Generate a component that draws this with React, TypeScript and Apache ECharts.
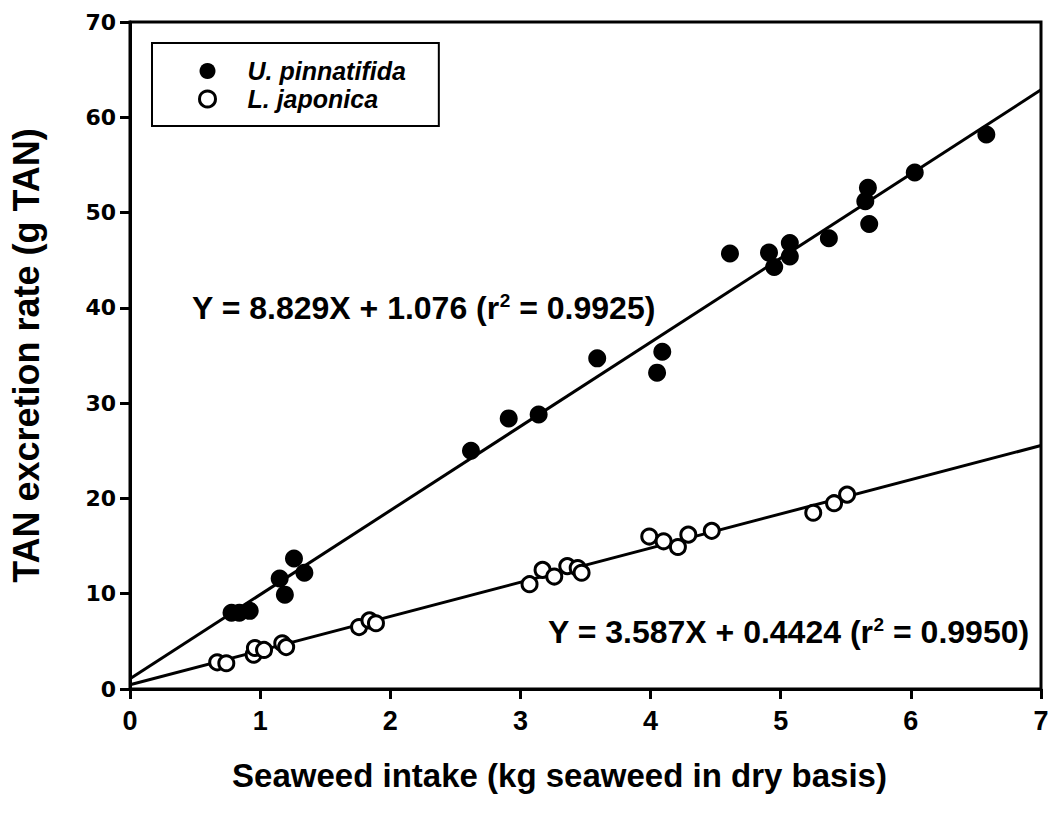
import React, { useEffect, useRef } from "react";
import * as echarts from "echarts";

// U. pinnatifida (filled circles): [seaweed intake kg, TAN g]
const pinnatifidaX = [0.78, 0.84, 0.92, 1.15, 1.19, 1.26, 1.34, 2.62, 2.91, 3.14, 3.59, 4.05, 4.09, 4.61, 4.91, 4.95, 5.07, 5.07, 5.37, 5.65, 5.67, 5.68, 6.03, 6.58];
const pinnatifidaY = [8.0, 8.0, 8.2, 11.6, 9.9, 13.7, 12.2, 25.0, 28.4, 28.8, 34.7, 33.2, 35.4, 45.7, 45.8, 44.3, 46.8, 45.4, 47.3, 51.2, 52.6, 48.8, 54.2, 58.2];

// L. japonica (open circles)
const japonicaX = [0.67, 0.74, 0.95, 0.96, 1.03, 1.17, 1.20, 1.76, 1.84, 1.89, 3.07, 3.17, 3.26, 3.36, 3.44, 3.47, 3.99, 4.10, 4.21, 4.29, 4.47, 5.25, 5.41, 5.51];
const japonicaY = [2.8, 2.7, 3.6, 4.3, 4.1, 4.8, 4.4, 6.5, 7.2, 6.9, 11.0, 12.5, 11.8, 12.9, 12.7, 12.2, 16.0, 15.5, 14.9, 16.2, 16.6, 18.5, 19.5, 20.4];

// Regression fits stated on the chart
const fitPinnatifida = { slope: 8.829, intercept: 1.076, r2: "0.9925" };
const fitJaponica = { slope: 3.587, intercept: 0.4424, r2: "0.9950" };
const fitRange = [0, 7];

const xTicks = [0, 1, 2, 3, 4, 5, 6, 7];
const yTicks = [0, 10, 20, 30, 40, 50, 60, 70];

const seriesNames = ["U. pinnatifida", "L. japonica"];

const SANS = "'Liberation Sans', Arial, sans-serif";

export default function App() {
  const ref = useRef<HTMLDivElement>(null);
  useEffect(() => {
    if (!ref.current) return;
    const chart = echarts.init(ref.current, undefined, { renderer: "svg" });
    const pts = (xs: number[], ys: number[]) => xs.map((x, i) => [x, ys[i]]);
    const fitLine = (f: { slope: number; intercept: number }) =>
      fitRange.map((x) => [x, f.slope * x + f.intercept]);
    const eqRich = {
      sup: { fontSize: 19, fontWeight: "bold", fontFamily: SANS, verticalAlign: "top", padding: [0, 0, 14, 0], fill: "#000" },
      n: { fontSize: 32, fontWeight: "bold", fontFamily: SANS, fill: "#000" },
    };
    const eqText = (f: { slope: number; intercept: number; r2: string }) =>
      `{n|Y = ${f.slope}X + ${f.intercept} (r}{sup|2}{n| = ${f.r2})}`;

    chart.setOption({
      animation: false,
      backgroundColor: "#fff",
      grid: {
        left: 130,
        right: 11,
        top: 22,
        bottom: 132,
        show: true,
        borderColor: "#000",
        borderWidth: 3,
        containLabel: false,
      },
      legend: {
        left: 152,
        top: 43,
        orient: "vertical",
        borderColor: "#000",
        borderWidth: 2,
        padding: [14, 33, 13, 46],
        itemGap: 0,
        itemWidth: 70,
        itemHeight: 16,
        data: [
          { name: seriesNames[0], icon: "circle" },
          { name: seriesNames[1], icon: "circle", itemStyle: { color: "#fff", borderColor: "#000", borderWidth: 3 } },
        ],
        textStyle: {
          fontFamily: SANS,
          fontWeight: "bold",
          fontStyle: "italic",
          fontSize: 25,
          lineHeight: 28,
          color: "#000",
        },
      },
      xAxis: {
        type: "value",
        min: 0,
        max: 7,
        interval: 1,
        name: "Seaweed intake (kg seaweed in dry basis)",
        nameLocation: "middle",
        nameGap: 70,
        nameTextStyle: {
          fontFamily: SANS,
          fontWeight: "bold",
          fontSize: 33,
          color: "#000",
          padding: [0, 52, 0, 0],
        },
        axisLine: { show: true, lineStyle: { color: "#000", width: 3 } },
        axisTick: { show: true, length: 10, lineStyle: { color: "#000", width: 3 } },
        axisLabel: {
          margin: 18,
          fontFamily: SANS,
          fontWeight: "bold",
          fontSize: 27,
          color: "#000",
          formatter: (v: number) => (xTicks.includes(v) ? String(v) : ""),
        },
        splitLine: { show: false },
      },
      yAxis: {
        type: "value",
        min: 0,
        max: 70,
        interval: 10,
        name: "TAN excretion rate (g TAN)",
        nameLocation: "middle",
        nameGap: 86,
        nameRotate: 90,
        nameTextStyle: {
          fontFamily: SANS,
          fontWeight: "bold",
          fontSize: 36,
          color: "#000",
        },
        axisLine: { show: true, lineStyle: { color: "#000", width: 3 } },
        axisTick: { show: true, length: 10, lineStyle: { color: "#000", width: 3 } },
        axisLabel: {
          margin: 14,
          fontFamily: "'DejaVu Sans', sans-serif",
          fontWeight: "bold",
          fontSize: 22,
          color: "#000",
          formatter: (v: number) => (yTicks.includes(v) ? String(v) : ""),
        },
        splitLine: { show: false },
      },
      graphic: [
        { type: "text", left: 192, top: 291, style: { text: eqText(fitPinnatifida), rich: eqRich } },
        { type: "text", left: 548, top: 615, style: { text: eqText(fitJaponica), rich: eqRich } },
      ],
      series: [
        {
          type: "line",
          data: fitLine(fitPinnatifida),
          showSymbol: false,
          lineStyle: { color: "#000", width: 3 },
          silent: true,
          z: 1,
        },
        {
          type: "line",
          data: fitLine(fitJaponica),
          showSymbol: false,
          lineStyle: { color: "#000", width: 3 },
          silent: true,
          z: 1,
        },
        {
          name: seriesNames[0],
          type: "scatter",
          data: pts(pinnatifidaX, pinnatifidaY),
          symbol: "circle",
          symbolSize: 18,
          itemStyle: { color: "#000", opacity: 1 },
          z: 3,
        },
        {
          name: seriesNames[1],
          type: "scatter",
          data: pts(japonicaX, japonicaY),
          symbol: "circle",
          symbolSize: 15,
          itemStyle: { color: "#fff", borderColor: "#000", borderWidth: 3, opacity: 1 },
          z: 3,
        },
      ],
    });
    return () => chart.dispose();
  }, []);
  return (
    <div
      ref={ref}
      style={{ position: "fixed", left: 0, top: 0, width: 1052, height: 821, background: "#fff" }}
    />
  );
}
